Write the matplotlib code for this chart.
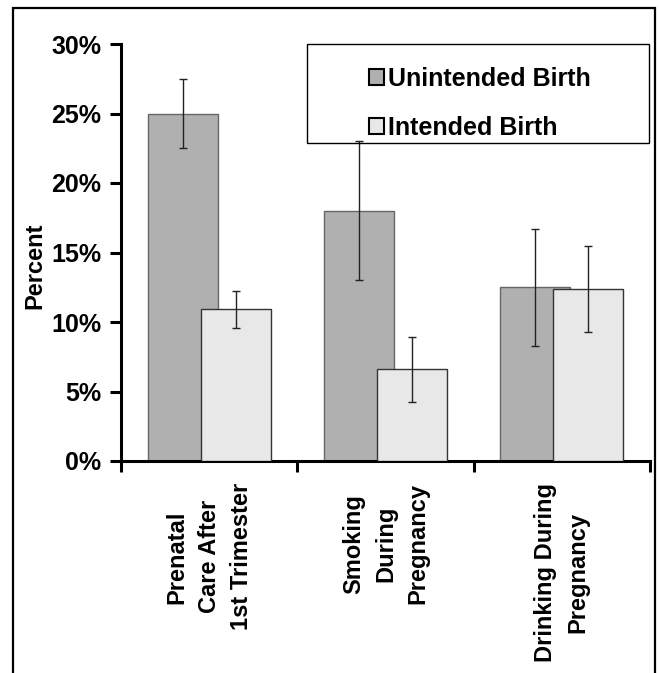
import matplotlib
matplotlib.use("Agg")
import matplotlib.pyplot as plt
from matplotlib.patches import Rectangle
import numpy as np

plt.rcParams['font.family'] = ['Liberation Sans', 'DejaVu Sans']
plt.rcParams['font.weight'] = 'bold'

categories = ["Prenatal\nCare After\n1st Trimester", "Smoking\nDuring\nPregnancy", "Drinking During\nPregnancy"]
series_names = ["Unintended Birth", "Intended Birth"]
unintended = [25.0, 18.0, 12.5]
unintended_err = [2.5, 5.0, 4.2]
intended = [10.9, 6.6, 12.4]
intended_err = [1.3, 2.35, 3.1]
yticks = [0, 5, 10, 15, 20, 25, 30]
ytick_labels = ["0%", "5%", "10%", "15%", "20%", "25%", "30%"]

W, H = 659, 673
fig = plt.figure(figsize=(W / 100, H / 100), dpi=100)
ax = fig.add_axes([121 / W, 1 - 461 / H, (650 - 121) / W, (461 - 44) / H])

x = np.arange(len(categories))
bw = 0.397
off = 0.15
ekw = dict(elinewidth=1.0, capthick=1.0, ecolor='#222222')
b1 = ax.bar(x - off, unintended, bw, color='#b0b0b0', edgecolor='#666666', linewidth=1.0,
            yerr=unintended_err, capsize=3, error_kw=ekw, label=series_names[0], zorder=2)
b2 = ax.bar(x + off, intended, bw, color='#e8e8e8', edgecolor='#333333', linewidth=1.0,
            yerr=intended_err, capsize=3, error_kw=ekw, label=series_names[1], zorder=3)

ax.set_xlim(-0.5, 2.5)
ax.set_ylim(0, 30)
ax.set_yticks(yticks)
ax.set_yticklabels(ytick_labels, fontsize=18, fontweight='bold')
ax.set_xticks(x)
ax.set_xticklabels(categories, rotation=90, fontsize=17, fontweight='bold',
                   ha='center', va='top', multialignment='center', linespacing=1.5)
ax.set_xticks([-0.5, 0.5, 1.5, 2.5], minor=True)
ax.tick_params(axis='x', which='major', length=0, pad=16)
ax.tick_params(axis='x', which='minor', length=8, width=2.2, direction='out')
ax.tick_params(axis='y', length=8, width=2.2, direction='out', pad=6)
for s in ['top', 'right']:
    ax.spines[s].set_visible(False)
for s in ['left', 'bottom']:
    ax.spines[s].set_linewidth(2.2)
ax.set_ylabel("Percent", fontsize=17, fontweight='bold')
ax.yaxis.set_label_coords(-0.141, 0.468)

# legend frame
lx0, lx1 = (307 - 121) / 529, (649 - 121) / 529
ly0, ly1 = (461 - 143) / 417, (461 - 44) / 417
ax.add_patch(Rectangle((lx0, ly0), lx1 - lx0, ly1 - ly0, transform=ax.transAxes,
                       fill=False, edgecolor='black', linewidth=1.0, clip_on=False, zorder=5))
leg = ax.legend(handles=[b1, b2], loc='center', bbox_to_anchor=((lx0 + lx1) / 2 + 0.003, (ly0 + ly1) / 2 - 0.023),
                frameon=False, fontsize=18, handlelength=0.6, handleheight=0.6,
                handletextpad=0.15, labelspacing=1.0, borderpad=0)
for t in leg.get_texts():
    t.set_fontweight('bold')
for h in leg.legend_handles:
    h.set_edgecolor('black')
    h.set_linewidth(1.5)

# figure border
fig.add_artist(Rectangle((13 / W, -0.05), (655 - 13) / W, 1.05 - 8 / H, transform=fig.transFigure,
                         fill=False, edgecolor='black', linewidth=1.6))

fig.savefig("out.png", dpi=100)
